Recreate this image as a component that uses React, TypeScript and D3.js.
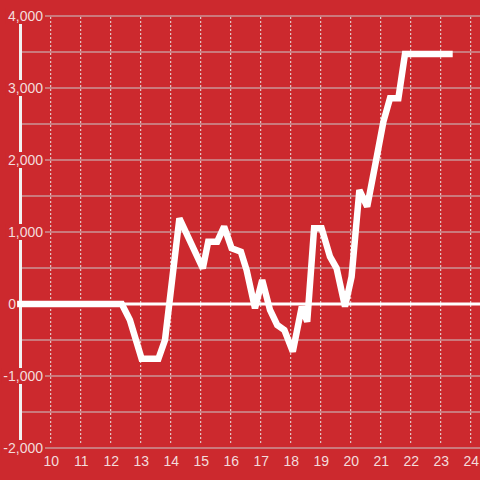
import React from "react";
import * as d3 from "d3";

const xTicks = [10, 11, 12, 13, 14, 15, 16, 17, 18, 19, 20, 21, 22, 23, 24];
const yMajor = [-2000, -1000, 0, 1000, 2000, 3000, 4000];
const yMinor = [-1500, -500, 500, 1500, 2500, 3500];
const yLabels = ["-2,000", "-1,000", "0", "1,000", "2,000", "3,000", "4,000"];

const seriesX = [8.88, 12.37, 12.64, 13.03, 13.59, 13.81, 14.29, 15.07, 15.25, 15.55, 15.78, 16.03, 16.34, 16.53, 16.81, 17.05, 17.31, 17.55, 17.79, 18.07, 18.37, 18.55, 18.78, 19.03, 19.31, 19.53, 19.81, 20.03, 20.29, 20.55, 20.87, 21.09, 21.31, 21.59, 21.81, 23.4];
const seriesY = [0, 0, -222, -760, -760, -500, 1190, 496, 865, 865, 1074, 774, 726, 472, -60, 333, -83, -292, -361, -662, -37, -246, 1051, 1051, 657, 496, -37, 379, 1583, 1351, 2046, 2532, 2857, 2857, 3472, 3472];

const BG = "#cc292e";
const GRID = "#c9c9c9";
const TEXT = "#f3dcdc";

export default function App() {
  const W = 480, H = 480;
  const x = d3.scaleLinear().domain([10, 24]).range([50.7, 470.7]);
  const y = d3.scaleLinear().domain([-2000, 4000]).range([448, 16]);
  const axisX = 20.5;
  const pts: [number, number][] = seriesX.map((v, i) => [v, seriesY[i]]);
  const line = d3.line<[number, number]>().x(d => x(d[0])).y(d => y(d[1]));
  const charW = (s: string) => {
    let w = 0;
    for (const c of s) w += c === "," ? 3.89 : c === "-" ? 4.66 : 7.79;
    return w;
  };
  return (
    <svg width={W} height={H} style={{ position: "absolute", left: 0, top: 0, display: "block" }}
      fontFamily="'Liberation Sans', Arial, sans-serif">
      <rect x={0} y={0} width={W} height={H} fill={BG} />
      {[...yMajor, ...yMinor].filter(v => v !== 0).map(v => (
        <line key={"g" + v} x1={axisX} x2={W} y1={y(v)} y2={y(v)} stroke={GRID} strokeWidth={1.2} />
      ))}
      {xTicks.map(v => (
        <line key={"v" + v} x1={x(v)} x2={x(v)} y1={y(4000) + 1} y2={y(-2000) - 3}
          stroke="#e6e6e6" strokeWidth={1} strokeDasharray="2,2" />
      ))}
      <line x1={axisX} x2={W} y1={y(0)} y2={y(0)} stroke="#ffffff" strokeWidth={3} />
      <line x1={axisX} x2={axisX} y1={y(4000)} y2={y(-2000)} stroke="#f2f2f2" strokeWidth={3} />
      {yMajor.map((v, i) => {
        const lx = v === 0 ? 16 : 43;
        const w = charW(yLabels[i]);
        return (
          <g key={"yl" + v}>
            {v !== 0 && <rect x={lx - w - 2} y={y(v) - 8} width={w + 4} height={16} fill={BG} />}
            <text x={lx} y={y(v)} dy="0.35em" textAnchor="end" fontSize={14} fill={TEXT}>{yLabels[i]}</text>
          </g>
        );
      })}
      {xTicks.map(v => (
        <text key={"xl" + v} x={x(v) + 0.5} y={466} textAnchor="middle" fontSize={14} fill={TEXT}>{v}</text>
      ))}
      <path d={line(pts) || ""} fill="none" stroke="#ffffff" strokeWidth={6.5} strokeLinejoin="miter" strokeMiterlimit={2} />
    </svg>
  );
}
